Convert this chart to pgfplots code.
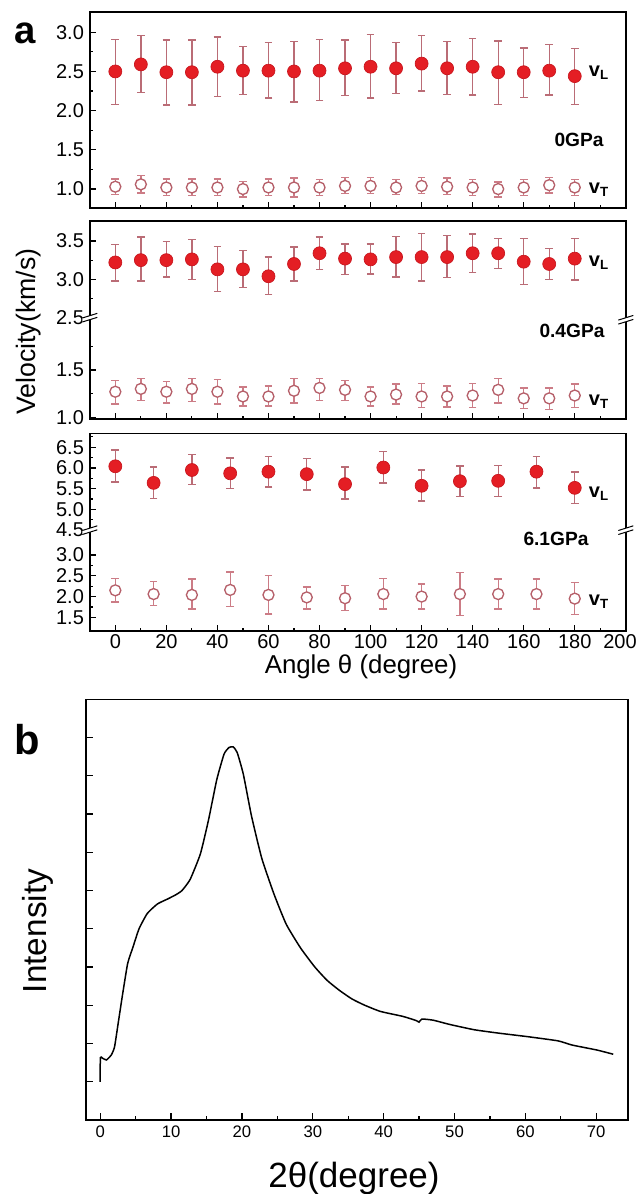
\documentclass[border=0pt]{standalone}
\usepackage{fontspec}
\setmainfont{Liberation Sans}
\usepackage{pgfplots}
\pgfplotsset{compat=1.18}
\usepackage{pgfplotstable}

\definecolor{vlred}{RGB}{228,30,36}
\definecolor{vledge}{RGB}{200,22,30}
\definecolor{vlerr}{RGB}{186,108,118}
\definecolor{vtcol}{RGB}{182,96,106}
\definecolor{vterr}{RGB}{204,124,134}

% 0 GPa
\pgfplotstableread{
x y ep em
0 2.50 0.41 0.42
10 2.59 0.37 0.36
20 2.49 0.41 0.42
30 2.49 0.41 0.42
40 2.56 0.38 0.38
50 2.51 0.31 0.30
60 2.51 0.36 0.35
70 2.50 0.38 0.39
80 2.51 0.40 0.38
90 2.54 0.36 0.35
100 2.56 0.41 0.40
110 2.54 0.33 0.32
120 2.60 0.36 0.35
130 2.54 0.34 0.33
140 2.56 0.36 0.36
150 2.49 0.40 0.41
160 2.49 0.31 0.32
170 2.51 0.33 0.31
180 2.44 0.35 0.36
}\vLa
\pgfplotstableread{
x y ep em
0 1.03 0.10 0.10
10 1.06 0.11 0.11
20 1.02 0.11 0.10
30 1.02 0.11 0.10
40 1.02 0.11 0.10
50 1.00 0.10 0.10
60 1.02 0.11 0.10
70 1.02 0.12 0.12
80 1.02 0.10 0.10
90 1.04 0.11 0.10
100 1.04 0.11 0.10
110 1.02 0.10 0.09
120 1.04 0.11 0.10
130 1.03 0.11 0.10
140 1.02 0.10 0.10
150 1.00 0.09 0.10
160 1.02 0.10 0.10
170 1.05 0.10 0.10
180 1.02 0.10 0.10
}\vTa
% 0.4 GPa
\pgfplotstableread{
x y ep em
0 3.22 0.23 0.24
10 3.25 0.30 0.27
20 3.25 0.24 0.22
30 3.26 0.26 0.26
40 3.13 0.30 0.29
50 3.13 0.25 0.24
60 3.04 0.25 0.24
70 3.20 0.22 0.22
80 3.34 0.21 0.21
90 3.27 0.19 0.21
100 3.26 0.20 0.19
110 3.29 0.27 0.26
120 3.29 0.31 0.31
130 3.29 0.28 0.27
140 3.34 0.25 0.25
150 3.34 0.19 0.20
160 3.23 0.30 0.30
170 3.20 0.20 0.20
180 3.27 0.26 0.28
}\vLb
\pgfplotstableread{
x y ep em
0 1.27 0.12 0.13
10 1.30 0.11 0.12
20 1.27 0.11 0.12
30 1.30 0.11 0.13
40 1.27 0.13 0.13
50 1.22 0.10 0.10
60 1.22 0.11 0.10
70 1.28 0.13 0.13
80 1.31 0.10 0.13
90 1.29 0.10 0.11
100 1.22 0.10 0.10
110 1.24 0.11 0.10
120 1.22 0.14 0.12
130 1.22 0.11 0.11
140 1.23 0.13 0.13
150 1.29 0.12 0.14
160 1.20 0.11 0.11
170 1.20 0.11 0.12
180 1.23 0.12 0.13
}\vTb
% 6.1 GPa
\pgfplotstableread{
x y ep em
0 6.04 0.39 0.38
15 5.64 0.38 0.38
30 5.95 0.37 0.35
45 5.87 0.37 0.37
60 5.91 0.37 0.37
75 5.85 0.37 0.38
90 5.61 0.41 0.36
105 6.01 0.38 0.37
120 5.57 0.38 0.37
135 5.68 0.37 0.37
150 5.69 0.37 0.38
165 5.91 0.37 0.39
180 5.52 0.38 0.37
}\vLc
\pgfplotstableread{
x y ep em
0 2.15 0.29 0.28
15 2.06 0.30 0.28
30 2.04 0.38 0.34
45 2.16 0.43 0.40
60 2.04 0.47 0.46
75 1.98 0.25 0.28
90 1.96 0.31 0.30
105 2.06 0.38 0.36
120 2.00 0.30 0.30
135 2.06 0.52 0.52
150 2.06 0.36 0.36
165 2.06 0.36 0.36
180 1.95 0.39 0.39
}\vTc
% XRD
\pgfplotstableread{
x y
0 0
0.02 0.63
0.3 0.62
0.87 0.57
1.56 0.70
2.02 0.91
2.6 1.61
3.17 2.30
3.87 3.09
4.62 3.52
5.48 4.00
6.64 4.40
8.08 4.65
9.52 4.78
10.67 4.89
11.54 5.00
12.69 5.29
14.14 5.96
15.29 6.85
16.45 7.90
17.48 8.57
18.18 8.74
18.75 8.76
19.33 8.61
20.2 8.04
21.35 6.95
22.79 5.85
24.52 4.91
26.25 4.12
28.27 3.50
30.29 3.00
32.03 2.65
33.76 2.39
35.49 2.17
37.22 2.01
39.53 1.84
42.7 1.71
44.6 1.60
45.0 1.56
45.4 1.64
47.0 1.61
49.3 1.50
52.8 1.36
56.3 1.27
60.3 1.18
64.6 1.07
66.6 0.96
70.1 0.83
72.4 0.72
}\xrd

\pgfplotsset{
  panelA/.style={
    scale only axis, anchor=north west, width=321.6pt,
    xmin=-10, xmax=200, clip=false,
    axis line style={line width=1pt, black},
    tick pos=left, xtick={0,20,...,200}, minor x tick num=1,
    major tick length=3.6pt, minor tick length=2pt,
    every tick/.style={black, line width=0.7pt},
    ticklabel style={font=\fontsize{12}{12}\selectfont},
    xticklabel style={yshift=1.5pt},
  },
  vL/.style={only marks, mark=*, mark size=3.9pt,
    mark options={fill=vlred, draw=vledge, line width=0.4pt},
    error bars/.cd, y dir=both, y explicit,
    error bar style={color=vlerr, line width=0.8pt},
    error mark options={rotate=90, mark size=2.3pt, vlerr, line width=0.8pt}},
  vT/.style={only marks, mark=*, mark size=3.3pt,
    mark options={fill=white, draw=vtcol, line width=0.8pt},
    error bars/.cd, y dir=both, y explicit,
    error bar style={color=vterr, line width=0.8pt},
    error mark options={rotate=90, mark size=2.3pt, vterr, line width=0.8pt}},
}

\newcommand{\brk}[1]{%
  \begin{scope}[shift={(#1)}]
    \fill[white] (-4.5pt,-2.6pt) -- (4.5pt,0.2pt) -- (4.5pt,2.6pt) -- (-4.5pt,-0.2pt) -- cycle;
    \draw[black, line width=0.6pt] (-4.5pt,-2.6pt) -- (4.5pt,0.2pt);
    \draw[black, line width=0.6pt] (-4.5pt,-0.2pt) -- (4.5pt,2.6pt);
  \end{scope}}

\begin{document}
\begin{tikzpicture}
\useasboundingbox (0,0) rectangle (382.8pt,-716.4pt);

% ---------- top panel: 0 GPa
\begin{axis}[panelA, at={(53.88pt,-7.02pt)}, height=117.8pt,
  ymin=0.758, ymax=3.262,
  ytick={1,1.5,2,2.5,3}, yticklabels={1.0,1.5,2.0,2.5,3.0},
  minor ytick={1.25,1.75,2.25,2.75},
  xticklabels={}]
\addplot+[vL] table[x=x,y=y,y error plus=ep,y error minus=em]{\vLa};
\addplot+[vT] table[x=x,y=y,y error plus=ep,y error minus=em]{\vTa};
\end{axis}

% ---------- middle panel: 0.4 GPa (broken axis)
\begin{axis}[panelA, at={(53.88pt,-132.6pt)}, height=118.8pt,
  ymin=0.982, ymax=3.073,
  ytick={1,1.5,2.052,2.457,2.862}, yticklabels={1.0,1.5,2.5,3.0,3.5},
  minor ytick={1.25,1.75,2.2545,2.6595},
  xticklabels={}]
\addplot+[vL] table[x=x,y expr={2.052+0.81*(\thisrow{y}-2.5)},
  y error plus expr={0.81*\thisrow{ep}}, y error minus expr={0.81*\thisrow{em}}]{\vLb};
\addplot+[vT] table[x=x,y=y,y error plus=ep,y error minus=em]{\vTb};
\coordinate (bl2) at (axis cs:-10,2.052);
\coordinate (br2) at (axis cs:200,2.03);
\end{axis}
\brk{bl2}\brk{br2}

% ---------- bottom panel: 6.1 GPa (broken axis)
\begin{axis}[panelA, at={(53.88pt,-260pt)}, height=118.6pt,
  ymin=1.17, ymax=5.934,
  ytick={1.5,2,2.5,3,3.6,4.1,4.6,5.1,5.6},
  yticklabels={1.5,2.0,2.5,3.0,4.5,5.0,5.5,6.0,6.5},
  minor ytick={1.75,2.25,2.75,3.85,4.35,4.85,5.35,5.85},
  xticklabels={0,20,40,60,80,100,120,140,160,180,\hspace*{-7pt}200}]
\addplot+[vL] table[x=x,y expr={\thisrow{y}-0.9},y error plus=ep,y error minus=em]{\vLc};
\addplot+[vT] table[x=x,y=y,y error plus=ep,y error minus=em]{\vTc};
\coordinate (bl3) at (axis cs:-10,3.6);
\coordinate (br3) at (axis cs:200,3.6);
\end{axis}
\brk{bl3}\brk{br3}

% ---------- labels panel a
\node[font=\fontsize{23}{23}\selectfont\bfseries] at (15pt,-19.8pt) {a};
\node[rotate=90, font=\fontsize{16}{16}\selectfont] at (17.2pt,-199pt) {Velocity(km/s)};
\node[font=\fontsize{15.5}{15.5}\selectfont] at (216.6pt,-400.2pt) {Angle θ (degree)};
\node[font=\fontsize{11.5}{11.5}\selectfont\bfseries] at (347.4pt,-84pt) {0GPa};
\node[font=\fontsize{11.5}{11.5}\selectfont\bfseries] at (343.2pt,-198.6pt) {0.4GPa};
\node[font=\fontsize{11.5}{11.5}\selectfont\bfseries] at (333.6pt,-323.4pt) {6.1GPa};
\foreach \yy/\s in {43.8/L, 114/T, 157.8/L, 241.2/T, 296.4/L, 361.2/T}{
  \node[font=\fontsize{12}{12}\selectfont\bfseries, anchor=center] at (359.4pt,-\yy pt) {v\textsubscript{\s}};
}

% ---------- panel b
\begin{axis}[scale only axis, anchor=north west, at={(51.54pt,-419.6pt)},
  width=325.1pt, height=252.4pt,
  xmin=-2.02, xmax=74.45, ymin=-1, ymax=10,
  axis line style={line width=0.9pt, black},
  tick pos=left, xtick={0,10,...,70}, minor x tick num=1,
  ytick={0,1,...,9}, yticklabels={},
  xticklabels={0,10,20,30,40,50,60,70},
  major tick length=4.5pt, minor tick length=2.5pt,
  every tick/.style={black, line width=0.7pt},
  ticklabel style={font=\fontsize{10}{10}\selectfont}]
\addplot[black, line width=0.9pt, smooth, tension=0.3] table[x=x,y=y]{\xrd};
\end{axis}
\node[font=\fontsize{25}{25}\selectfont\bfseries] at (16.6pt,-444pt) {b};
\node[rotate=90, font=\fontsize{20}{20}\selectfont] at (22.8pt,-558.6pt) {Intensity};
\node[font=\fontsize{21}{21}\selectfont] at (212.4pt,-706.8pt) {2θ(degree)};
\end{tikzpicture}
\end{document}
